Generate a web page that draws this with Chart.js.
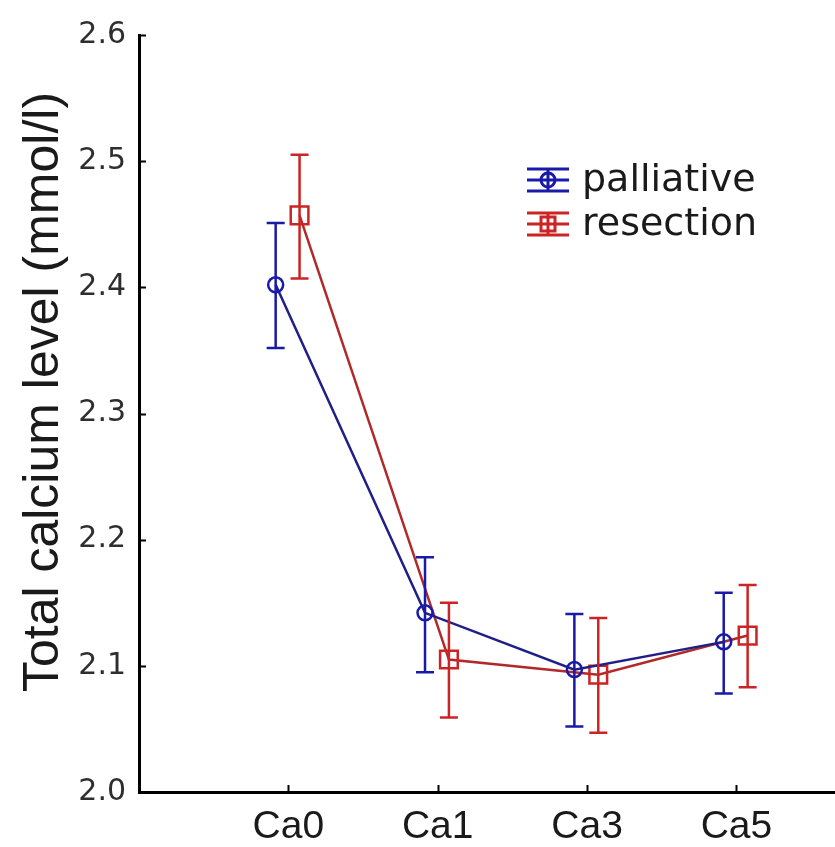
<!DOCTYPE html>
<html>
<head>
<meta charset="utf-8">
<script src="https://cdn.jsdelivr.net/npm/chart.js@4/dist/chart.umd.min.js"></script>
<style>
  html, body { margin: 0; padding: 0; background: #fff; }
  canvas { display: block; }
</style>
</head>
<body>
<canvas id="chart" width="835" height="847"></canvas>
<script>
// values
const categories = ['Ca0', 'Ca1', 'Ca3', 'Ca5'];
const yTicks = [2.0, 2.1, 2.2, 2.3, 2.4, 2.5, 2.6];
const yTitle = 'Total calcium level (mmol/l)';

const palliativeMean = [2.402, 2.142, 2.097, 2.119];
const palliativeLow = [2.352, 2.095, 2.052, 2.078];
const palliativeHigh = [2.451, 2.186, 2.141, 2.158];

const resectionMean = [2.457, 2.105, 2.093, 2.124];
const resectionLow = [2.407, 2.059, 2.047, 2.083];
const resectionHigh = [2.505, 2.150, 2.138, 2.164];

const series = [
    { name: 'palliative', mean: palliativeMean, low: palliativeLow, high: palliativeHigh,
      shift: -0.085, color: '#1a1aa8', line: '#1f1f86', marker: 'circle', radius: 7.5 },
    { name: 'resection', mean: resectionMean, low: resectionLow, high: resectionHigh,
      shift: 0.075, color: '#cc2424', line: '#b02a2a', marker: 'rect', radius: 12.5 },
];

const datasets = series.map((s) => ({
    label: s.name,
    data: s.mean.map((v, i) => ({ x: i + s.shift, y: v, lo: s.low[i], hi: s.high[i] })),
    borderColor: s.line,
    borderWidth: 2.5,
    pointStyle: s.marker,
    pointRadius: s.radius,
    pointBorderColor: s.color,
    pointBackgroundColor: 'rgba(0,0,0,0)',
    pointBorderWidth: 2.5,
    fill: false,
    tension: 0,
}));

// error bars, inward ticks, axis title and the legend box
const extras = {
    id: 'extras',
    afterDatasetsDraw(chart) {
        const ctx = chart.ctx;
        const y = chart.scales.y;
        ctx.save();
        ctx.lineWidth = 2.5;
        chart.data.datasets.forEach((ds, di) => {
            const meta = chart.getDatasetMeta(di);
            ctx.strokeStyle = series[di].color;
            meta.data.forEach((pt, j) => {
                const d = ds.data[j];
                const top = y.getPixelForValue(d.hi);
                const bot = y.getPixelForValue(d.lo);
                ctx.beginPath();
                ctx.moveTo(pt.x, top);
                ctx.lineTo(pt.x, bot);
                ctx.moveTo(pt.x - 9, top);
                ctx.lineTo(pt.x + 9, top);
                ctx.moveTo(pt.x - 9, bot);
                ctx.lineTo(pt.x + 9, bot);
                ctx.stroke();
            });
        });
        ctx.restore();
    },
    afterDraw(chart) {
        const ctx = chart.ctx;
        const { x, y } = chart.scales;
        const area = chart.chartArea;
        ctx.save();
        ctx.strokeStyle = '#000';
        ctx.lineWidth = 2;
        ctx.beginPath();
        yTicks.forEach((v) => {
            const py = Math.round(y.getPixelForValue(v)) + 0.5;
            ctx.moveTo(area.left, py);
            ctx.lineTo(area.left + 7, py);
        });
        categories.forEach((c, i) => {
            const px = Math.round(x.getPixelForValue(i)) + 0.5;
            ctx.moveTo(px, area.bottom);
            ctx.lineTo(px, area.bottom - 7);
        });
        ctx.stroke();

        // y title, sitting a little above the axis centre
        ctx.save();
        ctx.translate(44, 392);
        ctx.rotate(-Math.PI / 2);
        ctx.fillStyle = '#1a1a1a';
        ctx.font = '50px "Liberation Sans"';
        ctx.textAlign = 'center';
        ctx.textBaseline = 'middle';
        ctx.fillText(yTitle, 0, 0);
        ctx.restore();

        // legend
        series.forEach((s, i) => {
            const cx = 548;
            const cy = 180 + 44 * i;
            ctx.strokeStyle = s.color;
            ctx.lineWidth = 3;
            ctx.beginPath();
            [-11, 0, 11].forEach((dy) => {
                ctx.moveTo(cx - 21, cy + dy);
                ctx.lineTo(cx + 21, cy + dy);
            });
            ctx.moveTo(cx, cy - 11);
            ctx.lineTo(cx, cy + 11);
            ctx.stroke();
            ctx.beginPath();
            if (s.marker === 'circle') {
                ctx.arc(cx, cy, 7, 0, Math.PI * 2);
            } else {
                ctx.rect(cx - 7, cy - 7, 14, 14);
            }
            ctx.stroke();
            ctx.fillStyle = '#1a1a1a';
            ctx.font = '38px "DejaVu Sans"';
            ctx.textBaseline = 'middle';
            ctx.textAlign = 'left';
            ctx.fillText(s.name, 582, cy + 1);
        });
        ctx.restore();
    },
};

new Chart(document.getElementById('chart').getContext('2d'), {
    type: 'line',
    data: { datasets },
    options: {
        responsive: false,
        animation: false,
        layout: { autoPadding: false, padding: { top: 35, right: 0, bottom: 0, left: 0 } },
        plugins: { legend: { display: false }, tooltip: { enabled: false } },
        scales: {
            x: {
                type: 'linear',
                min: -1,
                max: 3.66,
                afterBuildTicks: (s) => { s.ticks = categories.map((c, i) => ({ value: i })); },
                afterFit: (s) => { s.height = 55; },
                ticks: {
                    callback: (v) => categories[v],
                    font: { family: 'Liberation Sans', size: 39 },
                    color: '#1a1a1a',
                    padding: 12,
                    maxRotation: 0,
                    autoSkip: false,
                },
                grid: { display: false, drawTicks: false },
                border: { display: true, color: '#000', width: 3 },
            },
            y: {
                min: 2.0,
                max: 2.6,
                afterBuildTicks: (s) => { s.ticks = yTicks.map((v) => ({ value: v })); },
                afterFit: (s) => { s.width = 139; },
                ticks: {
                    callback: (v) => v.toFixed(1),
                    font: { family: 'DejaVu Sans', size: 30 },
                    color: '#2e2e2e',
                    padding: 13,
                },
                grid: { display: false, drawTicks: false },
                border: { display: true, color: '#000', width: 3 },
            },
        },
    },
    plugins: [extras],
});
</script>
</body>
</html>
